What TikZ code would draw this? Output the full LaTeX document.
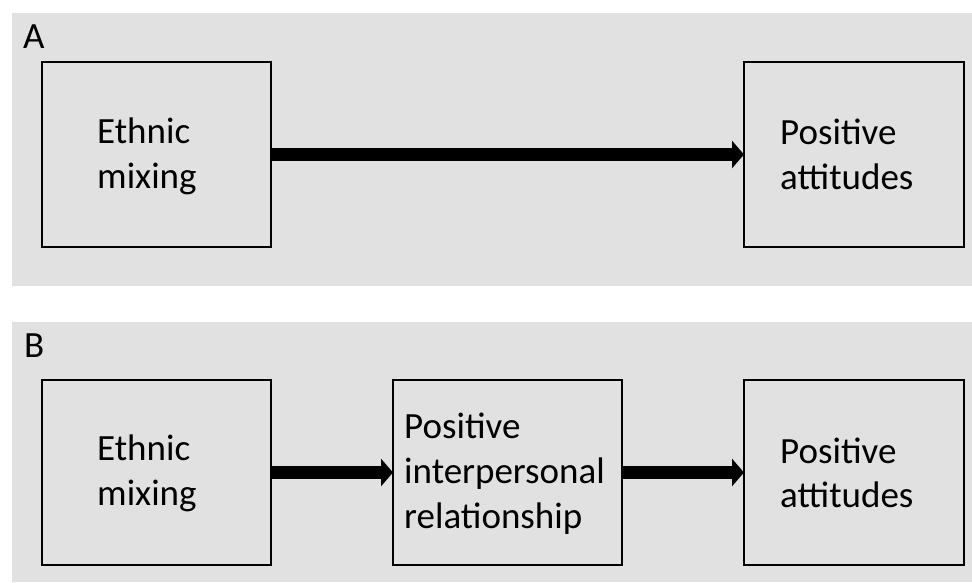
\documentclass[tikz,border=0pt]{standalone}
\usepackage{fontspec}
\setmainfont{Carlito}
\usetikzlibrary{arrows.meta}
\definecolor{panelgray}{RGB}{225,225,225}
\tikzset{
  panel/.style={fill=panelgray, draw=none},
  box/.style={draw=black, line width=2.5pt, fill=panelgray, rectangle, outer sep=0pt, inner sep=0pt, minimum height=185pt},
  txt/.style={anchor=base west, inner sep=0pt, font=\fontsize{37}{45}\selectfont},
  fat/.style={line width=13pt, -{Triangle[length=12pt,width=27pt]}, shorten <=1.25pt}
}
\begin{document}
\begin{tikzpicture}[x=1pt,y=-1pt]
\useasboundingbox (0,0) rectangle (972,582);
\fill[panel] (12,13) rectangle (972,286);
\fill[panel] (12,322) rectangle (972,582);
% panel A
\node[txt] (la) at (23,48) {A};
\node[box, minimum width=229pt] (a1) at (156.5,154.5) {};
\node[box, minimum width=220pt] (a2) at (854,154.5) {};
\node[txt] (a1t1) at (97,143) {Ethnic};
\node[txt] (a1t2) at (97,188) {mixing};
\node[txt] (a2t1) at (780,144) {Positive};
\node[txt] (a2t2) at (780,189) {attitudes};
\draw[fat] (a1.east) -- (a2.west);
% panel B
\node[txt] (lb) at (24,357) {B};
\node[box, minimum width=229pt] (b1) at (156.5,472.5) {};
\node[box, minimum width=229pt] (b2) at (507.5,472.5) {};
\node[box, minimum width=220pt] (b3) at (854,472.5) {};
\node[txt] (b1t1) at (97,460) {Ethnic};
\node[txt] (b1t2) at (97,505) {mixing};
\node[txt] (b2t1) at (404,438) {Positive};
\node[txt] (b2t2) at (404,483) {interpersonal};
\node[txt] (b2t3) at (404,528) {relationship};
\node[txt] (b3t1) at (780,463) {Positive};
\node[txt] (b3t2) at (780,507) {attitudes};
\draw[fat] (b1.east) -- (b2.west);
\draw[fat] (b2.east) -- (b3.west);
\end{tikzpicture}
\end{document}
